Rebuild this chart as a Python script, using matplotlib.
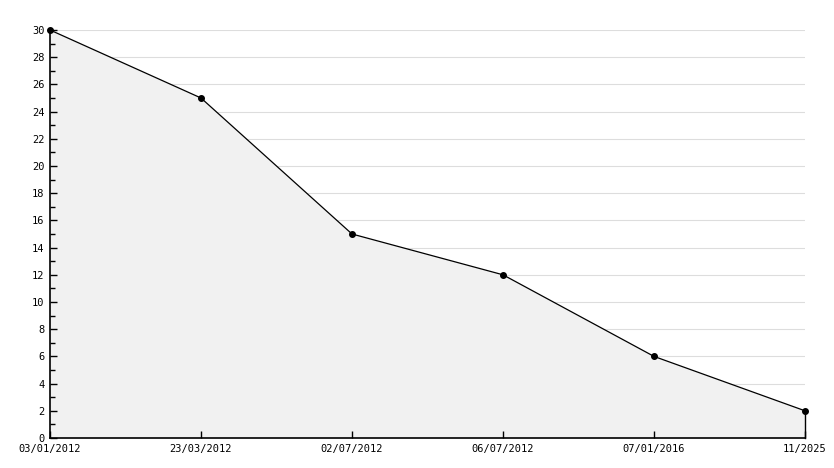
import matplotlib
matplotlib.use("Agg")
import matplotlib.pyplot as plt
from matplotlib.ticker import MultipleLocator

dates = ["03/01/2012", "23/03/2012", "02/07/2012", "06/07/2012", "07/01/2016", "11/2025"]
values = [30, 25, 15, 12, 6, 2]

plt.rcParams["font.family"] = "DejaVu Sans Mono"

fig = plt.figure(figsize=(8.34, 4.68), dpi=100)
ax = fig.add_axes([50 / 834, 1 - 438 / 468, 755 / 834, 408 / 468])

x = list(range(len(dates)))
ax.fill_between(x, values, 0, color="#f1f1f1", linewidth=0, zorder=1)
ax.plot(x, values, color="black", linewidth=0.9, marker="o", markersize=4, zorder=3, clip_on=False)
# right edge of the filled area
ax.plot([x[-1], x[-1]], [0, values[-1]], color="black", linewidth=1, zorder=3, clip_on=False)

ax.set_xlim(0, len(dates) - 1)
ax.set_ylim(0, 30)
ax.set_xticks(x)
ax.set_xticklabels(dates)
ax.yaxis.set_major_locator(MultipleLocator(2))
ax.yaxis.set_minor_locator(MultipleLocator(1))

# grid lines sit under the fill, ticks stay on top
for yv in ax.get_yticks():
    if 0 < yv <= 30:
        ax.axhline(yv, color="#dddddd", linewidth=0.8, zorder=0.5)

for side in ["top", "right"]:
    ax.spines[side].set_visible(False)
for side in ["left", "bottom"]:
    ax.spines[side].set_linewidth(1.2)
    ax.spines[side].set_zorder(4)

ax.tick_params(axis="y", which="major", direction="in", length=5, width=1, labelsize=7.5, pad=4)
ax.tick_params(axis="y", which="minor", direction="in", length=3.5, width=1)
ax.tick_params(axis="x", direction="in", length=5, width=1, labelsize=7.5, pad=4)

fig.savefig("out.png", dpi=100)
